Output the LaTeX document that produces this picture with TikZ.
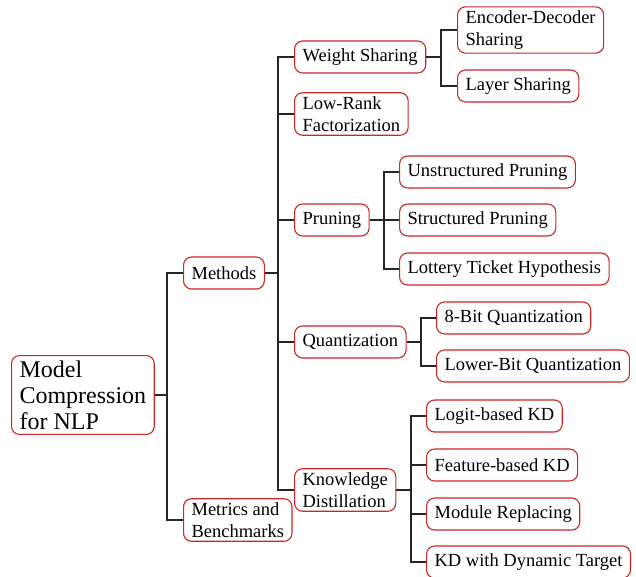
\documentclass[tikz,border=0pt]{standalone}
\usepackage{fontspec}
\setmainfont{Liberation Serif}
\begin{document}
\begin{tikzpicture}[x=1pt,y=-1pt,
  box/.style={draw=red!75!black!85, line width=1.1pt, rounded corners=8pt, anchor=west,
    inner xsep=8pt, inner ysep=4pt, minimum height=32pt, align=left,
    font=\fontsize{18.5}{21.5}\selectfont},
  rootbox/.style={box, font=\fontsize{24}{26}\selectfont, inner ysep=5pt},
  conn/.style={draw=black!85, line width=1.2pt}]
\useasboundingbox (0,0) rectangle (636,577);
\node[rootbox] (root) at (11,395) {Model\\Compression\\for NLP};
\node[box] (meth) at (183,273) {Methods};
\node[box] (metr) at (183,520) {Metrics and\\Benchmarks};
\node[box] (ws) at (294,57) {Weight Sharing};
\node[box] (lr) at (294,114) {Low-Rank\\Factorization};
\node[box] (pr) at (294,220) {Pruning};
\node[box] (qu) at (294,342) {Quantization};
\node[box] (kd) at (294,490) {Knowledge\\Distillation};
\node[box] (ed) at (457,30) {Encoder-Decoder\\Sharing};
\node[box] (ls) at (457,86) {Layer Sharing};
\node[box] (up) at (399,172) {Unstructured Pruning};
\node[box] (sp) at (399,220) {Structured Pruning};
\node[box] (lt) at (399,269) {Lottery Ticket Hypothesis};
\node[box] (q8) at (436,318) {8-Bit Quantization};
\node[box] (ql) at (436,366) {Lower-Bit Quantization};
\node[box] (lk) at (426,416) {Logit-based KD};
\node[box] (fk) at (426,465) {Feature-based KD};
\node[box] (mr) at (426,514) {Module Replacing};
\node[box] (dt) at (426,562) {KD with Dynamic Target};
% connectors
\foreach \p/\c/\x in {root/meth/167, root/metr/167,
  meth/ws/278, meth/lr/278, meth/pr/278, meth/qu/278, meth/kd/278,
  ws/ed/441, ws/ls/441,
  pr/up/384, pr/sp/384, pr/lt/384,
  qu/q8/421, qu/ql/421,
  kd/lk/411, kd/fk/411, kd/mr/411, kd/dt/411}
  \draw[conn] (\p.east) -- (\x,0 |- \p.east) |- (\c.west);
\end{tikzpicture}
\end{document}
